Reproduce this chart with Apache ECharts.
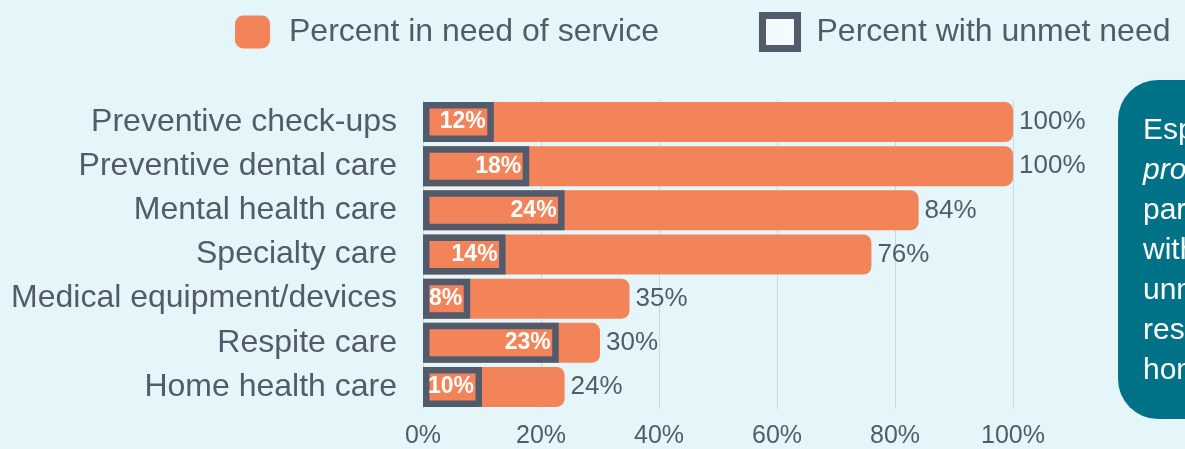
<!DOCTYPE html>
<html>
<head>
<meta charset="utf-8">
<script src="https://cdn.jsdelivr.net/npm/echarts@6/dist/echarts.min.js"></script>
<style>
html,body{margin:0;padding:0;background:#E4F6F9;}
#chart{width:1185px;height:449px;}
</style>
</head>
<body>
<div id="chart"></div>
<script>
const categories = ["Preventive check-ups","Preventive dental care","Mental health care","Specialty care","Medical equipment/devices","Respite care","Home health care"];
const needValues = [100,100,84,76,35,30,24];
const unmetValues = [12,18,24,14,8,23,10];
const xTicks = [0,20,40,60,80,100];
const calloutLines = ["Especially", "problematic", "parents", "with the most", "unmet needs:", "respite and", "home health care"];

const ORANGE = '#F3845A';
const SLATE = '#525B6B';
const BG = '#E4F6F9';
const FONT = '"Liberation Sans", Arial, sans-serif';

const chart = echarts.init(document.getElementById('chart'));
const calloutText = calloutLines.map((l,i)=> i===1 ? '{it|'+l+'}' : '{n|'+l+'}').join('\n');

chart.setOption({
  backgroundColor: BG,
  textStyle: {fontFamily: FONT},
  legend: {
    left: 230, top: 7,
    itemWidth: 35, itemHeight: 33, itemGap: 100,
    textStyle: {fontSize: 32, color: SLATE, fontFamily: FONT, padding: [0,0,0,14]},
    data: [
      {name: 'Percent in need of service', icon: 'roundRect', itemStyle: {color: ORANGE, borderWidth: 0}},
      {name: 'Percent with unmet need', icon: 'rect', itemStyle: {color: '#F4FBFC', borderColor: SLATE, borderWidth: 7}}
    ]
  },
  grid: {left: 423, right: 172, top: 100, bottom: 34},
  xAxis: {
    type: 'value', min: xTicks[0], max: xTicks[xTicks.length-1], interval: 20,
    axisLabel: {formatter: '{value}%', fontSize: 25, color: SLATE, margin: 15, fontFamily: FONT},
    splitLine: {lineStyle: {color: '#CDD8DD', width: 1}},
    axisLine: {show: false}, axisTick: {show: false}
  },
  yAxis: [
    {
      type: 'category', data: categories, inverse: true,
      axisLabel: {fontSize: 32, color: SLATE, margin: 26, fontFamily: FONT},
      axisLine: {show: false}, axisTick: {show: false}
    },
    {
      type: 'category', data: categories, inverse: true, position: 'left',
      axisLabel: {show: false}, axisLine: {show: false}, axisTick: {show: false}
    }
  ],
  series: [
    {
      name: 'Percent in need of service', type: 'bar', data: needValues, yAxisIndex: 0,
      barWidth: 40, z: 2,
      itemStyle: {color: ORANGE, borderRadius: [0,8,8,0]},
      label: {show: true, position: 'right', distance: 6, formatter: '{c}%', fontSize: 26, color: SLATE, fontFamily: FONT}
    },
    {
      name: 'Percent with unmet need', type: 'bar', data: unmetValues, yAxisIndex: 1,
      barWidth: 40, z: 3,
      itemStyle: {color: ORANGE, borderColor: SLATE, borderWidth: 6.5},
      label: {show: true, position: 'insideRight', distance: 8, formatter: '{c}%', fontSize: 23, fontWeight: 'bold', color: '#fff', fontFamily: FONT}
    }
  ],
  graphic: [
    {
      type: 'group', left: 1118, top: 80,
      children: [
        {type: 'rect', shape: {x: 0, y: 0, width: 330, height: 339, r: 40}, style: {fill: '#007287'}},
        {type: 'text', x: 25, y: 31, style: {
          text: calloutText, fill: '#fff', fontSize: 30, fontFamily: FONT, lineHeight: 40,
          rich: {n: {fontSize: 30, fill: '#fff', lineHeight: 40, fontFamily: FONT}, it: {fontSize: 30, fill: '#fff', fontStyle: 'italic', lineHeight: 40, fontFamily: FONT}}
        }}
      ]
    }
  ]
});
</script>
</body>
</html>
